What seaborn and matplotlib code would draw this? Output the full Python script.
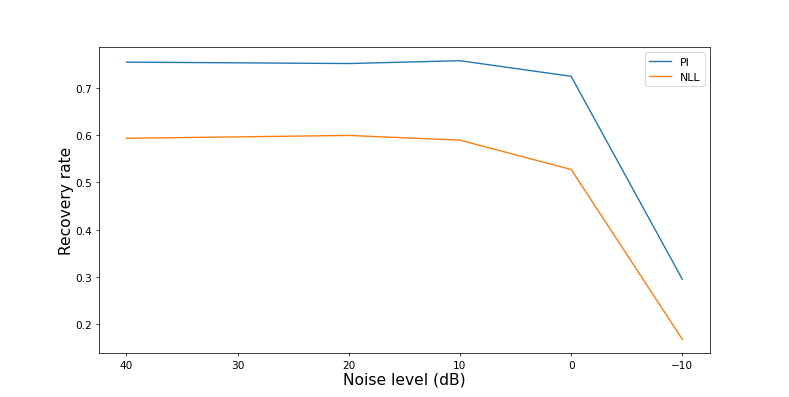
import pandas as pd
import matplotlib
matplotlib.use("Agg")
import matplotlib.pyplot as plt
import seaborn as sns

noise_db = [40, 20, 10, 0, -10]
pi_rate = [0.754, 0.751, 0.757, 0.724, 0.295]
nll_rate = [0.593, 0.599, 0.589, 0.527, 0.168]

df = pd.DataFrame({
    "noise": noise_db * 2,
    "rate": pi_rate + nll_rate,
    "method": ["PI"] * len(noise_db) + ["NLL"] * len(noise_db),
})

# drawn as a 12-inch figure at a low dpi so it comes out 789x398
fig = plt.figure(figsize=(12, 6.053), dpi=65.75)
ax = sns.lineplot(data=df, x="noise", y="rate", hue="method",
                  palette=["#1f77b4", "#ff7f0e"])
ax.invert_xaxis()
ax.set_xlabel("Noise level (dB)", fontsize=17, labelpad=2)
ax.set_ylabel("Recovery rate", fontsize=17, labelpad=1)
ax.tick_params(labelsize=11.5)
ax.legend(title=None, fontsize=12)

plt.savefig("out.png", dpi=65.75)
